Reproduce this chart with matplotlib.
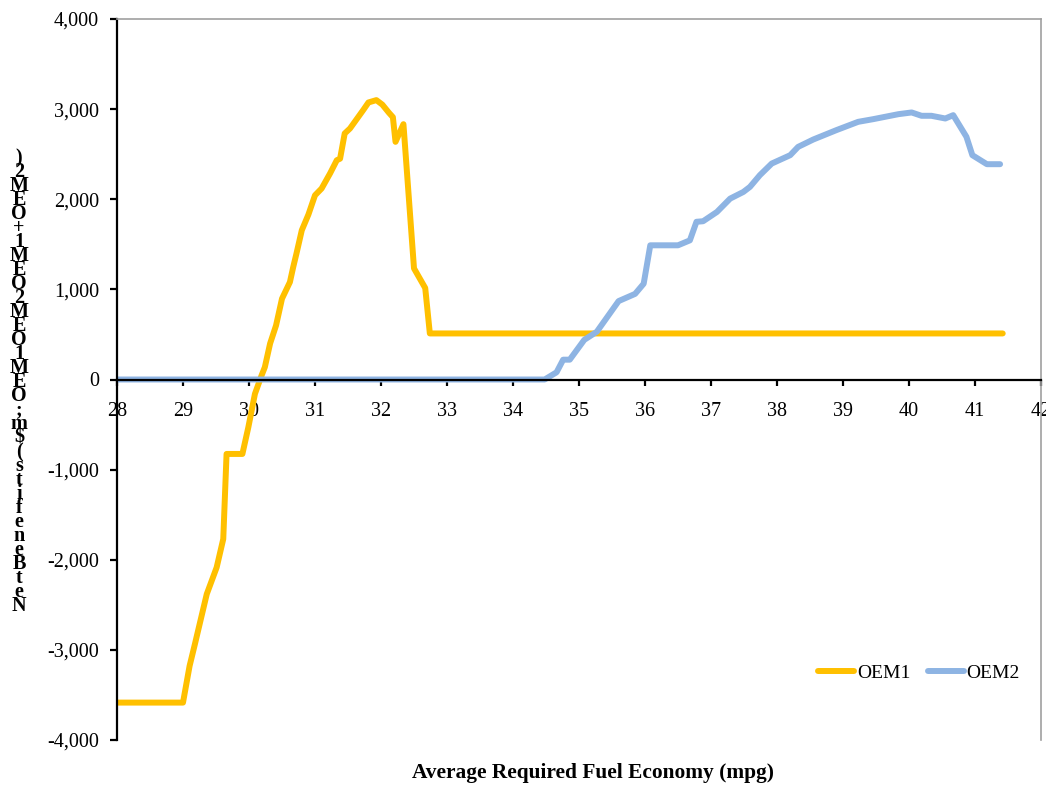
import numpy as np
import matplotlib
matplotlib.use("Agg")
import matplotlib.pyplot as plt
from matplotlib.ticker import FuncFormatter

# values
oem1_mpg = [28.0, 29.0, 29.10, 29.18, 29.36, 29.51, 29.61, 29.66, 29.90, 29.99,
            30.09, 30.19, 30.24, 30.32, 30.41, 30.50, 30.62, 30.67, 30.72, 30.80,
            30.90, 31.0, 31.10, 31.23, 31.33, 31.38, 31.45, 31.53, 31.73, 31.81,
            31.93, 32.02, 32.12, 32.18, 32.22, 32.34, 32.50, 32.67, 32.74, 41.42]
oem1_net = [-3585, -3585, -3178, -2937, -2381, -2085, -1770, -826, -826, -530,
            -159, 44, 137, 400, 600, 897, 1081, 1248, 1400, 1656,
            1830, 2044, 2119, 2289, 2433, 2450, 2730, 2785, 2989, 3074,
            3100, 3050, 2960, 2911, 2637, 2833, 1233, 1015, 511, 511]

oem2_mpg = [28.0, 34.48, 34.66, 34.76, 34.86, 35.08, 35.27, 35.60, 35.85, 35.98,
            36.08, 36.50, 36.68, 36.78, 36.88, 37.09, 37.29, 37.49, 37.59, 37.74,
            37.92, 38.20, 38.32, 38.55, 38.90, 39.23, 39.46, 39.84, 40.04, 40.19,
            40.34, 40.55, 40.67, 40.87, 40.96, 41.18, 41.38]
oem2_net = [0, 0, 80, 220, 220, 440, 530, 870, 950, 1063,
            1489, 1489, 1544, 1750, 1756, 1859, 2007, 2081, 2137, 2267,
            2396, 2489, 2581, 2663, 2767, 2859, 2889, 2944, 2963, 2926,
            2926, 2896, 2933, 2693, 2489, 2389, 2389]

x_ticks = np.arange(28, 43, 1)
y_ticks = np.arange(-4000, 4001, 1000)
ylabel_text = "Net Benefits ($m; OEM1 OEM2 OEM1+OEM2)"

plt.rcParams["font.family"] = ["Liberation Serif", "DejaVu Serif"]

fig = plt.figure(figsize=(10.46, 7.85), dpi=100)
ax = fig.add_axes([117 / 1046, 1 - 740 / 785, 924 / 1046, 721 / 785])

ax.plot(oem1_mpg, oem1_net, color="#FFC000", lw=4.3, label="OEM1",
        solid_joinstyle="round", solid_capstyle="round")
ax.plot(oem2_mpg, oem2_net, color="#8EB4E3", lw=4.3, label="OEM2",
        solid_joinstyle="round", solid_capstyle="round")

ax.set_xlim(28, 42)
ax.set_ylim(-4000, 4000)
ax.set_xticks(x_ticks)
ax.set_yticks(y_ticks)
ax.yaxis.set_major_formatter(FuncFormatter(lambda v, p: f"{int(v):,}"))

ax.spines["bottom"].set_position(("data", 0))
ax.spines["bottom"].set_linewidth(1.6)
ax.spines["left"].set_linewidth(1.6)
for s in ["top", "right"]:
    ax.spines[s].set_color("#A0A0A0")
    ax.spines[s].set_linewidth(1.2)

ax.tick_params(axis="y", direction="out", length=5, width=1.6, pad=8, labelsize=14.5)
ax.tick_params(axis="x", direction="out", length=4, width=1.6, pad=12, labelsize=14.5)

ax.set_xlabel("Average Required Fuel Economy (mpg)", fontsize=15.4, fontweight="bold")
ax.xaxis.set_label_coords((593 - 117) / 924, (740 - 773) / 721)
ax.xaxis.label.set_va("center")

# the y label in the source is stacked letter by letter, bottom to top
stacked = "\n".join(reversed(ylabel_text.replace(" ", "")))
fig.text(19 / 1046, 1 - 382 / 785, stacked, ha="center", va="center",
         fontsize=14.5, fontweight="bold", linespacing=0.6)

ax.legend(loc="center left", bbox_to_anchor=((818 - 117) / 924, (740 - 673) / 721),
          frameon=False, ncol=2, fontsize=14, handlelength=1.85, handletextpad=0.15,
          columnspacing=0.9, borderaxespad=0, borderpad=0)

fig.savefig("out.png", dpi=100)
